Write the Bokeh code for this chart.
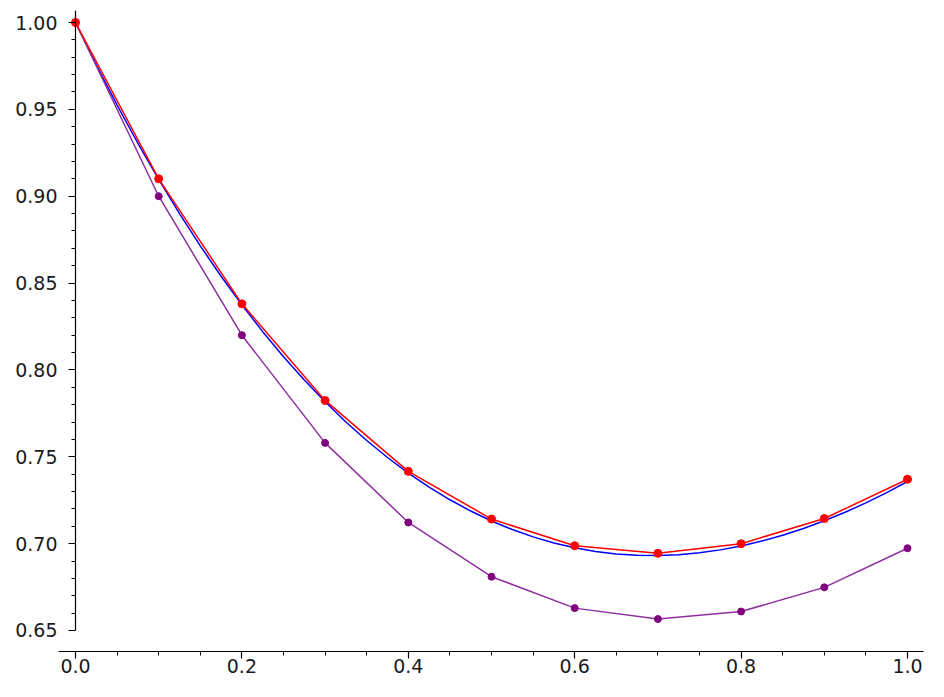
from bokeh.plotting import figure
from bokeh.models import FixedTicker, PrintfTickFormatter, Range1d, LinearAxis, CustomJSTickFormatter
from bokeh.embed import file_html
from bokeh.resources import INLINE

# Exact solution (smooth curve), sampled
exact_x = [0.0, 0.025, 0.05, 0.075, 0.1, 0.125, 0.15, 0.175, 0.2, 0.225,
           0.25, 0.275, 0.3, 0.325, 0.35, 0.375, 0.4, 0.425, 0.45, 0.475,
           0.5, 0.525, 0.55, 0.575, 0.6, 0.625, 0.65, 0.675, 0.7, 0.725,
           0.75, 0.775, 0.8, 0.825, 0.85, 0.875, 0.9, 0.925, 0.95, 0.975, 1.0]
exact_y = [1.0, 0.975620, 0.952459, 0.930486, 0.909675, 0.889994, 0.871416,
           0.853914, 0.837462, 0.822032, 0.807602, 0.794144, 0.781636,
           0.770054, 0.759376, 0.749578, 0.740640, 0.732540, 0.725256,
           0.718770, 0.713061, 0.708110, 0.703900, 0.700410, 0.697623,
           0.695522, 0.694092, 0.693312, 0.693171, 0.693650, 0.694733,
           0.696408, 0.698658, 0.701470, 0.704830, 0.708724, 0.713139,
           0.718062, 0.723483, 0.729384, 0.735759]

# Step points
step_x = [0.0, 0.1, 0.2, 0.3, 0.4, 0.5, 0.6, 0.7, 0.8, 0.9, 1.0]
euler_y = [1.0, 0.9, 0.82, 0.758, 0.7122, 0.68098, 0.662882, 0.656594,
           0.660934, 0.674841, 0.697357]
heun_y = [1.0, 0.91, 0.83805, 0.782435, 0.741604, 0.714152, 0.698807,
          0.694420, 0.699951, 0.714455, 0.737082]

x_major = [0.0, 0.2, 0.4, 0.6, 0.8, 1.0]
x_minor = [0.05, 0.1, 0.15, 0.25, 0.3, 0.35, 0.45, 0.5, 0.55, 0.65, 0.7,
           0.75, 0.85, 0.9, 0.95]
y_major = [0.65, 0.70, 0.75, 0.80, 0.85, 0.90, 0.95, 1.00]
y_minor = [0.66, 0.67, 0.68, 0.69, 0.71, 0.72, 0.73, 0.74, 0.76, 0.77, 0.78,
           0.79, 0.81, 0.82, 0.83, 0.84, 0.86, 0.87, 0.88, 0.89, 0.91, 0.92,
           0.93, 0.94, 0.96, 0.97, 0.98, 0.99]

X0, X1 = -0.02043, 1.01923
Y0, Y1 = 0.63791, 1.00691

p = figure(width=928, height=681, output_backend="svg", toolbar_location=None,
           x_range=Range1d(X0, X1), y_range=Range1d(Y0, Y1),
           min_border_left=58, min_border_right=5, min_border_top=10,
           min_border_bottom=30)
p.outline_line_color = None
p.grid.visible = False
p.background_fill_color = "white"
p.border_fill_color = "white"

FONT = "DejaVu Sans"
TXT = "#1a1a1a"


def style(ax):
    ax.axis_line_color = "black"
    ax.axis_line_width = 1.2
    ax.major_tick_line_color = "black"
    ax.minor_tick_line_color = "black"
    ax.major_tick_line_width = 1.2
    ax.minor_tick_line_width = 1
    ax.major_tick_out = 7
    ax.major_tick_in = 0
    ax.minor_tick_out = 4
    ax.minor_tick_in = 0
    ax.major_label_text_font = FONT
    ax.major_label_text_font_size = "19px"
    ax.major_label_text_color = TXT


# x axis (bottom panel)
xa = p.xaxis[0]
style(xa)
xa.ticker = FixedTicker(ticks=x_major, minor_ticks=x_minor)
xa.formatter = PrintfTickFormatter(format="%.1f")
xa.major_label_standoff = 0

# y axis labels only (left panel)
ya = p.yaxis[0]
style(ya)
ya.ticker = FixedTicker(ticks=y_major, minor_ticks=[])
ya.formatter = PrintfTickFormatter(format="%.2f")
ya.axis_line_color = None
ya.major_tick_line_color = None
ya.minor_tick_line_color = None
ya.major_tick_out = 0
ya.minor_tick_out = 0
ya.major_label_standoff = 1

# y axis line + ticks at x = 0
yline = LinearAxis(fixed_location=0, bounds=(0.65, Y1))
style(yline)
yline.ticker = FixedTicker(ticks=y_major, minor_ticks=y_minor)
yline.formatter = CustomJSTickFormatter(code="return ''")
p.add_layout(yline, "left")

p.line(exact_x, exact_y, line_color="#0000ff", line_width=1.5)
p.line(step_x, euler_y, line_color="#8f2f9f", line_width=1.5)
p.scatter(step_x, euler_y, size=7, fill_color="#800080", line_color="#800080")
p.line(step_x, heun_y, line_color="#ff0000", line_width=1.5)
p.scatter(step_x, heun_y, size=8, fill_color="#ff0000", line_color="#ff0000")

open("out.html", "w").write(file_html(p, INLINE))
